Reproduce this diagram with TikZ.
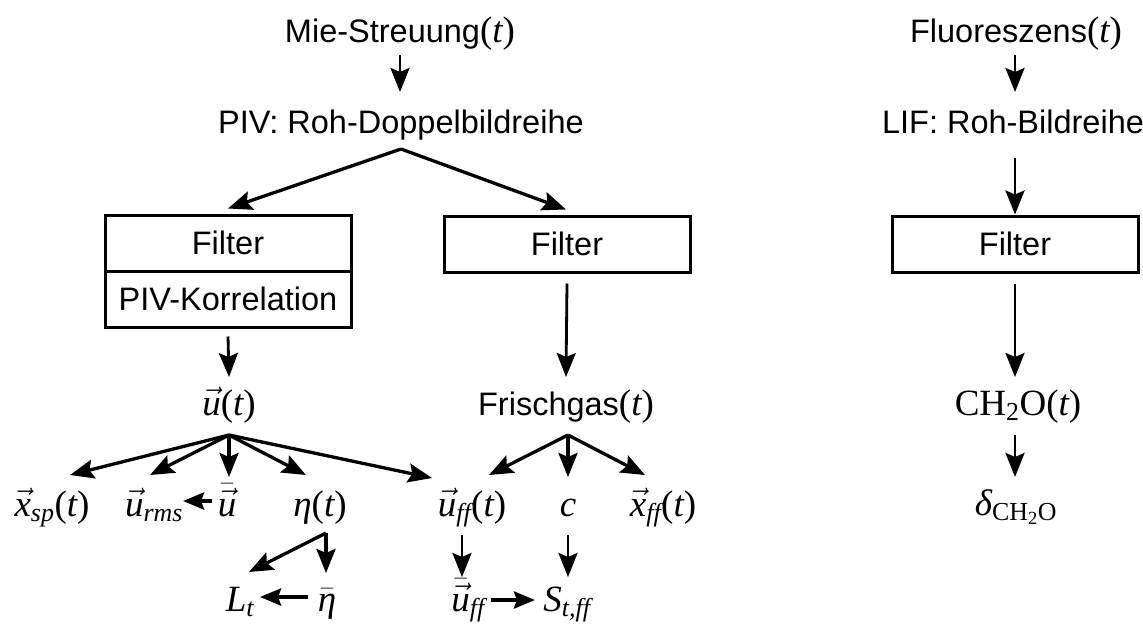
\documentclass[tikz,border=0pt]{standalone}
\usepackage{fix-cm}
\usepackage{amsmath}
\usepackage{fontspec}
\setmainfont{Liberation Sans}
\newfontfamily\tms{Liberation Serif}
\usetikzlibrary{arrows.meta,calc}
% serif symbols used in the formulas
\newcommand{\mi}[1]{\text{\tms\itshape #1}}
\newcommand{\mr}[1]{\text{\tms #1}}
\newcommand{\ofT}{\mr{(}\mi{t}\mr{)}}
% italic math part inside sans labels, set a little larger
\newcommand{\tv}{{\fontsize{37}{42}\selectfont$\ofT$}}
\begin{document}
\begin{tikzpicture}[x=1pt,y=-1pt,
  lbl/.style={anchor=base,inner sep=0pt,font=\fontsize{32.5}{38}\selectfont},
  mth/.style={anchor=base,inner sep=0pt,font=\fontsize{37}{42}\selectfont},
  box/.style={draw,line width=3pt,minimum width=246pt,minimum height=56pt,
              inner sep=0pt,font=\fontsize{32.5}{38}\selectfont},
  arr/.style={-{Stealth[length=24pt,width=19pt,inset=4pt]},line width=2.8pt},
  arrb/.style={-{Stealth[length=24pt,width=19pt,inset=4pt]},line width=3.3pt},
  arrs/.style={-{Stealth[length=21pt,width=17pt,inset=3pt]},line width=4pt}]
\useasboundingbox (0,0) rectangle (1143,624);

% ---- PIV branch ----
\node[lbl] (mie) at (400,42) {Mie-Streuung\tv};
\node[lbl] (piv) at (401,133) {PIV: Roh-Doppelbildreihe};
\node[box] (fl) at (228,243) {Filter};
\node[box] (pk) at (228,299) {PIV-Korrelation};
\node[box] (fm) at (567,244) {Filter};
\node[mth] (u)  at (229,415) {$\vec{\mi{u}}\ofT$};
\node[lbl] (fg) at (566,415) {Frischgas\tv};

\node[mth] (xsp)  at (52,516)  {$\vec{\mi{x}}_{\mi{sp}}\ofT$};
\node[mth] (urms) at (154,516) {$\vec{\mi{u}}_{\mi{rms}}$};
\node[mth] (ubb)  at (227,516) {$\bar{\vec{\mi{u}}}$};
\node[mth] (eta)  at (320,516) {$\mi{η}\ofT$};
\node[mth] (uff)  at (472,516) {$\vec{\mi{u}}_{\mi{ff}}\ofT$};
\node[mth] (cc)   at (568,516) {$\mi{c}$};
\node[mth] (xff)  at (663,516) {$\vec{\mi{x}}_{\mi{ff}}\ofT$};

\node[mth] (lt)   at (240,611) {$\mi{L}_{\mi{t}}$};
\node[mth] (etab) at (327,611) {$\bar{\mi{η}}$};
\node[mth] (uffb) at (468,611) {$\bar{\vec{\mi{u}}}_{\mi{ff}}$};
\node[mth] (stf)  at (567,611) {$\mi{S}_{\mi{t,ff}}$};

% ---- LIF branch ----
\node[lbl] (fluo) at (1016,42) {Fluoreszens\tv};
\node[lbl] (lif)  at (1013,133) {LIF: Roh-Bildreihe};
\node[box] (fr)   at (1015,244) {Filter};
\node[mth] (ch)   at (1018,415) {$\mr{CH}_{\mr{2}}\mr{O}\ofT$};
\node[mth] (dl)   at (1016,515) {$\mi{δ}_{\mr{CH}_{\mr{2}}\mr{O}}$};

% ---- connectors ----
\draw[arr] ($(mie.base)+(0,13)$) -- ($(piv.base)+(-1,-41)$);
\coordinate (pb) at ($(piv.base)+(0,16)$);
\draw[arrb] (pb) -- ($(fl.north)+(0,-5)$);
\draw[arrb] (pb) -- ($(fm.north)+(-1,-5)$);
\draw[arr] ($(pk.south)+(0,8)$) -- ($(u.base)+(0,-38)$);
\draw[arr] ($(fm.south)+(0,10)$) -- ($(fg.base)+(0,-38)$);

\coordinate (ub) at ($(u.base)+(0,20)$);
\draw[arrb] (ub) -- ($(xsp.base)+(18,-41)$);
\draw[arrb] (ub) -- ($(urms.base)+(-4,-41)$);
\draw[arrb] (ub) -- ($(ubb.base)+(2,-39)$);
\draw[arrb] (ub) -- ($(eta.base)+(-14,-41)$);
\draw[arrb] (ub) -- ($(uff.base)+(-40,-38)$);
\draw[arrs] ($(ubb.base)+(-15,-15)$) -- ($(urms.base)+(29,-15)$);

\coordinate (fb) at ($(fg.base)+(2,20)$);
\draw[arrb] (fb) -- ($(uff.base)+(17,-41)$);
\draw[arrb] (fb) -- ($(cc.base)+(0,-39)$);
\draw[arrb] (fb) -- ($(xff.base)+(-18,-41)$);

\coordinate (eb) at ($(eta.base)+(6,17)$);
\draw[arrb] (eb) -- ($(lt.base)+(9,-39)$);
\draw[arrb] (eb) -- ($(etab.base)+(-1,-38)$);
\draw[arrs] ($(etab.base)+(-19,-14)$) -- ($(lt.base)+(20,-14)$);

\draw[arr] ($(uff.base)+(-10,19)$) -- ($(uffb.base)+(-6,-34)$);
\draw[arr] ($(cc.base)+(0,19)$) -- ($(stf.base)+(1,-34)$);
\draw[arrs] ($(uffb.base)+(23,-11)$) -- ($(stf.base)+(-32,-11)$);

\draw[arr] ($(fluo.base)+(-1,13)$) -- ($(lif.base)+(2,-41)$);
\draw[arr] ($(lif.base)+(2,25)$) -- (fr.north);
\draw[arr] ($(fr.south)+(0,10)$) -- ($(ch.base)+(-3,-38)$);
\draw[arr] ($(ch.base)+(-3,20)$) -- ($(dl.base)+(-1,-38)$);
\end{tikzpicture}
\end{document}
